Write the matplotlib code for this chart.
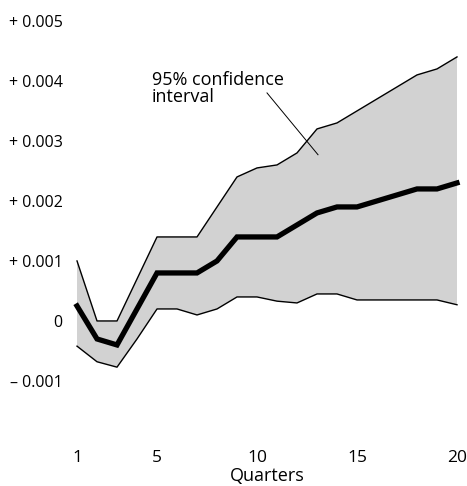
import matplotlib.pyplot as plt

# impulse response over 20 quarters, with 95% band
quarters = list(range(1, 21))
response = [0.00025, -0.0003, -0.0004, 0.0002, 0.0008, 0.0008, 0.0008, 0.001, 0.0014, 0.0014,
            0.0014, 0.0016, 0.0018, 0.0019, 0.0019, 0.002, 0.0021, 0.0022, 0.0022, 0.0023]
upper = [0.001, 0.0, 0.0, 0.0007, 0.0014, 0.0014, 0.0014, 0.0019, 0.0024, 0.00255,
         0.0026, 0.0028, 0.0032, 0.0033, 0.0035, 0.0037, 0.0039, 0.0041, 0.0042, 0.0044]
lower = [-0.00042, -0.00068, -0.00077, -0.0003, 0.0002, 0.0002, 0.0001, 0.0002, 0.0004, 0.0004,
         0.00033, 0.0003, 0.00045, 0.00045, 0.00035, 0.00035, 0.00035, 0.00035, 0.00035, 0.00027]
ytick_vals = [0.005, 0.004, 0.003, 0.002, 0.001, 0, -0.001]
ytick_labels = ['+ 0.005', '+ 0.004', '+ 0.003', '+ 0.002', '+ 0.001', '0', '\u2013 0.001']
xtick_vals = [1, 5, 10, 15, 20]

plt.rcParams['font.family'] = ['Open Sans', 'DejaVu Sans']

fig = plt.figure(figsize=(4.67, 4.86), dpi=100)
ax = fig.add_axes([0.1435, 0.105, 0.8565, 0.889])

ax.fill_between(quarters, lower, upper, facecolor='#d2d2d2', edgecolor='none')
ax.plot(quarters, upper, color='black', lw=1.0)
ax.plot(quarters, lower, color='black', lw=1.0)
ax.plot(quarters, response, color='black', lw=3.8, solid_joinstyle='miter')

ax.text(4.75, 0.00387, '95% confidence\ninterval', fontsize=13, va='center', ha='left',
        linespacing=0.95)
ax.plot([10.5, 13.05], [0.0038, 0.00277], color='black', lw=0.7)

ax.set_xlim(0.5, 20.5)
ax.set_ylim(-0.0019, 0.0053)
ax.set_yticks(ytick_vals)
ax.set_yticklabels(ytick_labels, fontsize=11.5)
ax.set_xticks(xtick_vals)
ax.tick_params(axis='both', length=0)
ax.tick_params(axis='x', pad=11, labelsize=12.5)
ax.tick_params(axis='y', pad=3)
ax.set_xlabel('Quarters', fontsize=13, labelpad=0.5)
for s in ax.spines.values():
    s.set_visible(False)

fig.savefig('out.png', dpi=100)
